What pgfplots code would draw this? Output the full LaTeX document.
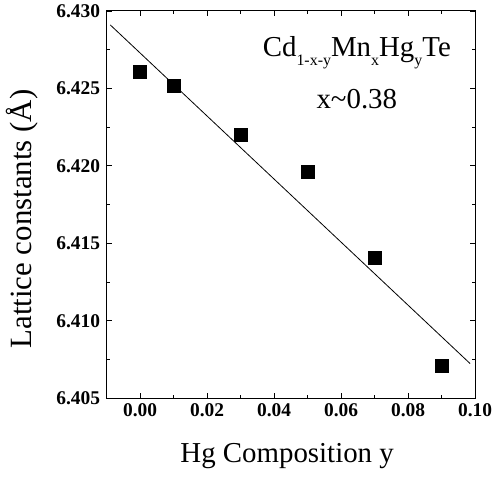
\documentclass[border=0pt]{standalone}
\usepackage{fontspec}
\setmainfont{Liberation Serif}
\usepackage{pgfplots}
\pgfplotsset{compat=1.18}

\begin{document}
\begin{tikzpicture}
\path[use as bounding box] (-107pt,-79pt) rectangle (388pt,400pt);
\begin{axis}[
    at={(0pt,0pt)}, anchor=south west,
    scale only axis,
    width=370pt, height=389pt,
    xmin=-0.01, xmax=0.10,
    ymin=6.405, ymax=6.430,
    xtick={0,0.02,...,0.10},
    ytick={6.405,6.410,6.415,6.420,6.425,6.430},
    minor x tick num=1,
    minor y tick num=1,
    tick align=inside,
    major tick length=5pt,
    minor tick length=3pt,
    axis line style={line width=1.1pt},
    tick style={line width=0.9pt, black},
    scaled x ticks=false, scaled y ticks=false,
    ticklabel style={font=\fontsize{19.5}{21}\selectfont\bfseries},
    xticklabel style={yshift=-2pt, /pgf/number format/.cd, fixed, zerofill, precision=2, assume math mode=true},
    yticklabel style={xshift=-3pt, /pgf/number format/.cd, fixed, zerofill, precision=3, assume math mode=true},
    xlabel={Hg Composition y},
    ylabel={Lattice constants (\AA)},
    xlabel style={font=\fontsize{29}{31}\selectfont, at={(axis description cs:0.49,-0.149)}, anchor=center},
    ylabel style={font=\fontsize{31}{33}\selectfont, at={(axis description cs:-0.229,0.463)}, anchor=center},
    clip=false,
]
\addplot[black, line width=0.8pt] coordinates {(-0.0089,6.4291) (0.0985,6.40725)};
\addplot[only marks, mark=square*, mark size=6.5pt, black] coordinates {
    (0.00,6.4261) (0.01,6.4252) (0.03,6.4220) (0.05,6.4196) (0.07,6.4141) (0.09,6.4071)};
\node[font=\fontsize{29}{31}\selectfont, anchor=base] at (axis cs:0.0647,6.42704)
    {Cd\raisebox{-9pt}{\fontsize{16}{18}\selectfont 1-x-y}Mn\raisebox{-9pt}{\fontsize{16}{18}\selectfont x}Hg\raisebox{-9pt}{\fontsize{16}{18}\selectfont y}Te};
\node[font=\fontsize{29}{31}\selectfont, anchor=center] at (axis cs:0.0647,6.4243) {x\char`~0.38};
\end{axis}
\end{tikzpicture}
\end{document}
